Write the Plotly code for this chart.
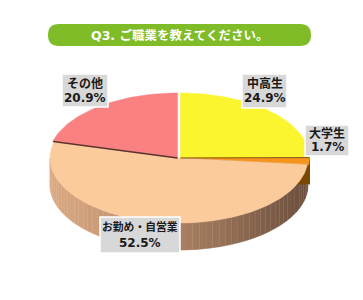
import numpy as np
import plotly.graph_objects as go

# ---- data ----
categories = ["中高生", "大学生", "お勤め・自営業", "その他"]
percents = [24.9, 1.7, 52.5, 20.9]
title_text = "Q3. ご職業を教えてください。"

# ---- styles ----
top_colors = ["#FAF52E", "#F7941D", "#FBCB9B", "#F98181"]
side_dark = ["#8A7A10", "#7E4C00", None, "#9A4A4A"]
FONT = "DejaVu Sans, Noto Sans CJK JP, sans-serif"

# geometry (pixel space)
W, H = 363, 300
cx, cy, rx, ry, depth = 179, 158, 129, 65, 27

def pt(theta_deg, dy=0.0):
    t = np.radians(theta_deg)
    return cx + rx * np.sin(t), cy - ry * np.cos(t) + dy

fig = go.Figure()

cum = np.concatenate([[0], np.cumsum(percents)]) / 100.0 * 360.0

def lerp(c1, c2, f):
    a = [int(c1[i:i+2], 16) for i in (1, 3, 5)]
    b = [int(c2[i:i+2], 16) for i in (1, 3, 5)]
    return "#" + "".join(f"{int(round(a[k] + (b[k]-a[k]) * f)):02x}" for k in range(3))

# ---- sides (visible front: 90..270 deg) ----
for i in range(len(percents)):
    a0, a1 = max(cum[i], 90), min(cum[i + 1], 270)
    if a1 <= a0:
        continue
    nstrip = max(1, int((a1 - a0) / 3))
    edges = np.linspace(a0, a1, nstrip + 1)
    for j in range(nstrip):
        s0, s1 = edges[j], edges[j + 1]
        th = np.linspace(s0, s1, 6)
        xs_top, ys_top = pt(th)
        xs_bot, ys_bot = pt(th[::-1], depth)
        xs = np.concatenate([xs_top, xs_bot])
        ys = np.concatenate([ys_top, ys_bot])
        xm = (pt((s0 + s1) / 2)[0] - (cx - rx)) / (2 * rx)
        if side_dark[i] is None:
            col = lerp("#DAA880", "#6A4E3C", min(1, max(0, xm)) ** 1.2)
        else:
            col = side_dark[i]
        fig.add_trace(go.Scatter(x=xs, y=ys, fill="toself", mode="lines",
                                 line=dict(width=0.6, color=col), fillcolor=col,
                                 hoverinfo="skip", showlegend=False))

# radial face of the orange slice at the right
ex, ey = pt(cum[1])
fig.add_trace(go.Scatter(x=[cx + 2, ex + 2, ex + 2, cx + 2], y=[ey, ey, ey + depth, ey + depth],
                         fill="toself", mode="lines", line=dict(width=0), fillcolor="#7A4800",
                         hoverinfo="skip", showlegend=False))

# ---- tops ----
offsets = [(1.5, 0), (1.5, 0), (0, 0), (-1.5, 0)]
for i in range(len(percents)):
    th = np.linspace(cum[i], cum[i + 1], max(4, int(percents[i] * 3)))
    xs, ys = pt(th)
    ox, oy = offsets[i]
    xs = np.concatenate([[cx], xs, [cx]]) + ox
    ys = np.concatenate([[cy], ys, [cy]]) + oy
    fig.add_trace(go.Scatter(x=xs, y=ys, fill="toself", mode="lines",
                             line=dict(width=0.5, color=top_colors[i]), fillcolor=top_colors[i],
                             hoverinfo="skip", showlegend=False))

lx, ly = pt(cum[3])
fig.add_trace(go.Scatter(x=[cx - 1.5, lx - 1], y=[cy, ly], mode="lines",
                         line=dict(width=1.5, color="#5A3530"), hoverinfo="skip", showlegend=False))
ox1, oy1 = pt(cum[1])
fig.add_trace(go.Scatter(x=[cx + 1.5, ox1 + 1.5], y=[cy, oy1], mode="lines",
                         line=dict(width=1, color="#8A5A10"), hoverinfo="skip", showlegend=False))

# ---- labels: gray boxes (x0, x1, y0, y1) ----
label_boxes = [(242, 287, 74, 108), (305, 349, 125, 156), (100, 180, 217, 253), (62, 108, 74, 107)]
for i, (bx0, bx1, by0, by1) in enumerate(label_boxes):
    fig.add_shape(type="rect", x0=bx0, x1=bx1, y0=by0, y1=by1, xref="x", yref="y",
                  fillcolor="#D8D8D8", line=dict(color="#FFFFFF", width=1.5))
    xm = (bx0 + bx1) / 2
    hh = (by1 - by0)
    fs1 = 12 if len(categories[i]) <= 4 else 10.8
    fig.add_annotation(x=xm, y=by0 + hh * 0.29, xref="x", yref="y", showarrow=False,
                       text=f"<b>{categories[i]}</b>",
                       font=dict(family=FONT, size=fs1, color="#1A1A1A"))
    fig.add_annotation(x=xm, y=by0 + hh * 0.72, xref="x", yref="y", showarrow=False,
                       text=f"<b>{percents[i]:.1f}%</b>",
                       font=dict(family=FONT, size=12, color="#1A1A1A"))

# ---- title bar ----
x0, x1, y0, y1, r = 48, 311, 24, 46, 11
path = (f"M {x0+r},{y0} L {x1-r},{y0} Q {x1},{y0} {x1},{y0+r} Q {x1},{y1} {x1-r},{y1} "
        f"L {x0+r},{y1} Q {x0},{y1} {x0},{y0+r} Q {x0},{y0} {x0+r},{y0} Z")
fig.add_shape(type="path", path=path, xref="x", yref="y",
              fillcolor="#7FBC28", line=dict(width=0), layer="below")
fig.add_annotation(x=(x0 + x1) / 2, y=(y0 + y1) / 2 + 0.5, xref="x", yref="y", showarrow=False,
                   text=f"<b>{title_text}</b>",
                   font=dict(family=FONT, size=12.5, color="#FFFFFF"))

fig.update_layout(width=W, height=H, margin=dict(l=0, r=0, t=0, b=0),
                  paper_bgcolor="white", plot_bgcolor="white",
                  xaxis=dict(range=[0, W], visible=False, fixedrange=True),
                  yaxis=dict(range=[H, 0], visible=False, fixedrange=True),
                  showlegend=False)
fig.write_html("out.html", config={"displayModeBar": False})
